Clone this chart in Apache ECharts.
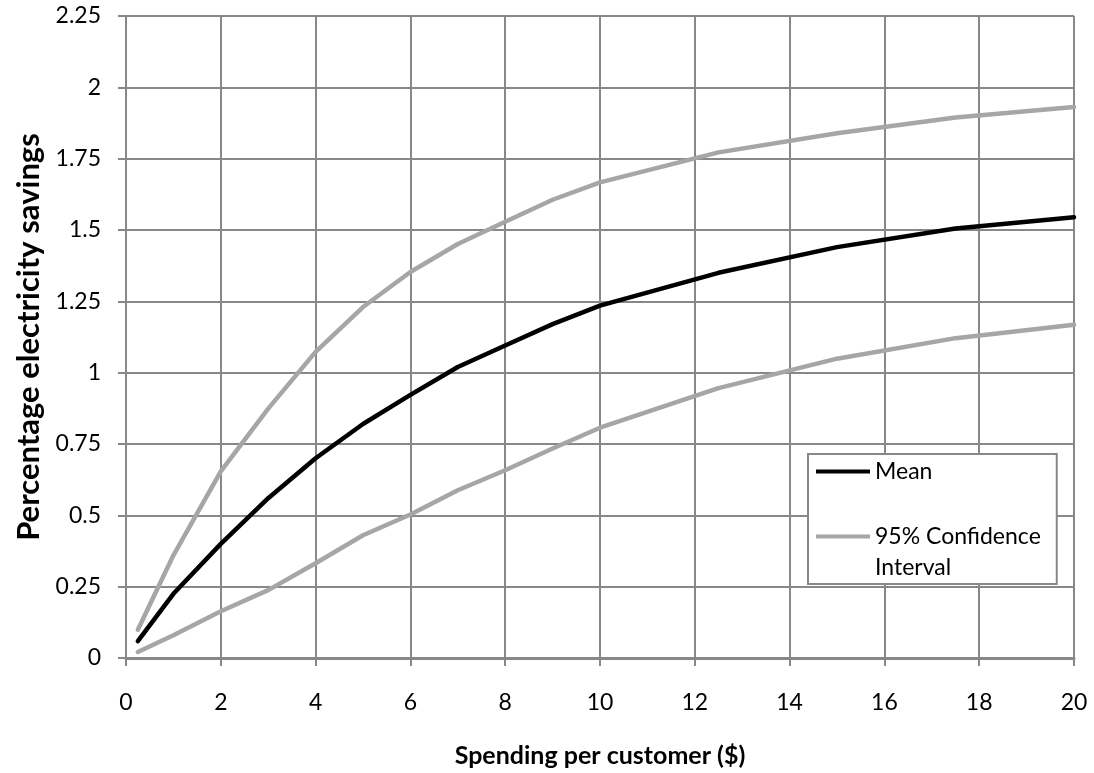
<!DOCTYPE html>
<html>
<head>
<meta charset="utf-8">
<script src="https://cdn.jsdelivr.net/npm/echarts@6/dist/echarts.min.js"></script>
<style>
html, body { margin: 0; padding: 0; background: #fff; }
#chart { width: 1094px; height: 773px; }
</style>
</head>
<body>
<div id="chart"></div>
<script>
// Spending per customer ($)
var spending = [0.25, 1, 2, 3, 4, 5, 6, 7, 8, 9, 10, 12.5, 15, 17.5, 20];
// Percentage electricity savings
var meanSavings  = [0.059, 0.225, 0.40, 0.56, 0.70, 0.82, 0.922, 1.02, 1.095, 1.17, 1.235, 1.35, 1.44, 1.505, 1.545];
var upperCI      = [0.099, 0.36, 0.654, 0.874, 1.073, 1.23, 1.353, 1.451, 1.529, 1.606, 1.667, 1.772, 1.839, 1.894, 1.931];
var lowerCI      = [0.021, 0.08, 0.164, 0.238, 0.332, 0.43, 0.503, 0.588, 0.658, 0.734, 0.807, 0.946, 1.049, 1.121, 1.168];

var meanName = 'Mean';
var ciName = '95% Confidence\nInterval';

function pairs(xs, ys) {
  return xs.map(function (x, i) { return [x, ys[i]]; });
}

var FONT = 'Lato, "Liberation Sans", Arial, sans-serif';
var GRID = '#888888';
var GRAY = '#a6a6a6';

var chart = echarts.init(document.getElementById('chart'), null, { renderer: 'canvas' });

var option = {
  backgroundColor: '#ffffff',
  animation: false,
  grid: { left: 126, right: 20, top: 16, bottom: 113, containLabel: false },
  legend: {
    left: 808,
    top: 454,
    orient: 'vertical',
    padding: [2, 16, 1, 8],
    itemGap: 3,
    itemWidth: 54,
    itemHeight: 4,
    icon: 'rect',
    borderColor: GRID,
    borderWidth: 2,
    backgroundColor: '#ffffff',
    selectedMode: false,
    textStyle: { fontFamily: FONT, fontSize: 23, lineHeight: 31, color: '#000' },
    formatter: function (name) {
      return name === ciName ? '\n' + name : name;
    },
    data: [meanName, ciName]
  },
  xAxis: {
    type: 'value',
    min: 0,
    max: 20,
    interval: 2,
    name: 'Spending per customer ($)',
    nameLocation: 'middle',
    nameGap: 85,
    nameTextStyle: { fontFamily: FONT, fontSize: 25, fontWeight: 'bold', color: '#000' },
    axisLine: { show: true, lineStyle: { color: GRID, width: 3 } },
    axisTick: { show: true, inside: false, length: 8, lineStyle: { color: GRID, width: 2 } },
    axisLabel: { margin: 33, fontFamily: FONT, fontSize: 23, color: '#000' },
    splitLine: { show: true, lineStyle: { color: GRID, width: 2 } }
  },
  yAxis: {
    type: 'value',
    min: 0,
    max: 2.25,
    interval: 0.25,
    name: 'Percentage electricity savings',
    nameLocation: 'middle',
    nameGap: 80,
    nameTextStyle: { fontFamily: FONT, fontSize: 31, fontWeight: 'bold', color: '#000' },
    axisLine: { show: true, lineStyle: { color: GRID, width: 2 } },
    axisTick: { show: true, inside: false, length: 8, lineStyle: { color: GRID, width: 2 } },
    axisLabel: { margin: 25, fontFamily: FONT, fontSize: 23, color: '#000' },
    splitLine: { show: true, lineStyle: { color: GRID, width: 2 } }
  },
  series: [
    {
      name: ciName,
      type: 'line',
      data: pairs(spending, upperCI),
      symbol: 'none',
      showSymbol: false,
      lineStyle: { color: GRAY, width: 4.5, cap: 'round', join: 'round' },
      itemStyle: { color: GRAY },
      z: 2
    },
    {
      name: ciName,
      type: 'line',
      data: pairs(spending, lowerCI),
      symbol: 'none',
      showSymbol: false,
      lineStyle: { color: GRAY, width: 4.5, cap: 'round', join: 'round' },
      itemStyle: { color: GRAY },
      z: 2
    },
    {
      name: meanName,
      type: 'line',
      data: pairs(spending, meanSavings),
      symbol: 'none',
      showSymbol: false,
      lineStyle: { color: '#000000', width: 4.5, cap: 'round', join: 'round' },
      itemStyle: { color: '#000000' },
      z: 3
    }
  ]
};

chart.setOption(option);
</script>
</body>
</html>
